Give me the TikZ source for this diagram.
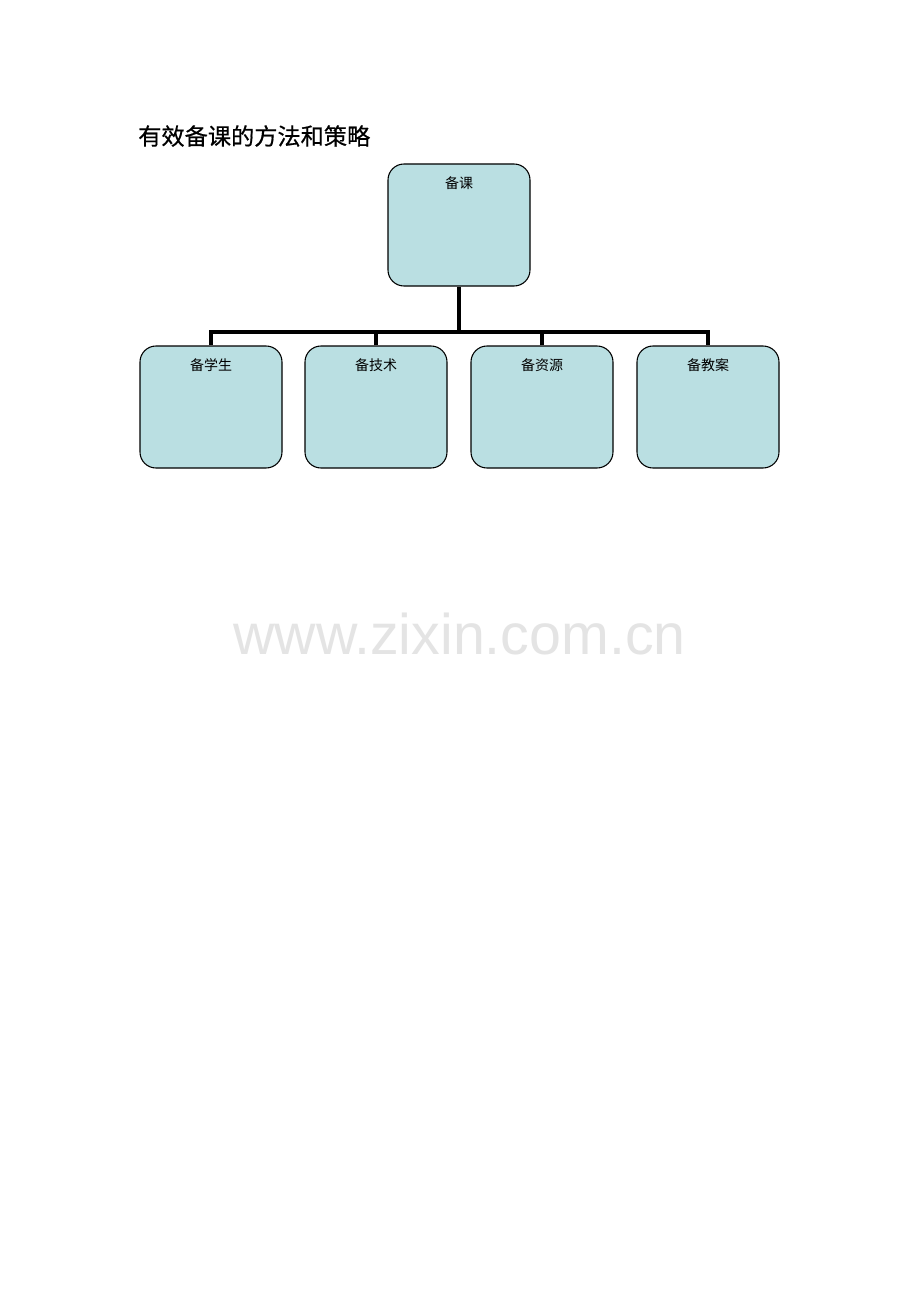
\documentclass[tikz,border=0pt]{standalone}
\usepackage{fontspec}
\newfontfamily\cjk{Noto Sans CJK SC}
\newfontfamily\cjkb[FakeBold=0.6]{Noto Sans CJK SC}
\newfontfamily\wm{Liberation Sans}
\definecolor{boxfill}{HTML}{BADFE2}
\definecolor{wmgray}{HTML}{E4E4E4}
\begin{document}
\begin{tikzpicture}[x=0.75pt,y=-0.75pt,
  orgbox/.style={draw=black, line width=0.8pt, fill=boxfill, rounded corners=12pt,
    minimum width=142*0.75pt, minimum height=122*0.75pt, inner sep=0pt},
  boxlabel/.style={font=\cjk\fontsize{10.5pt}{12pt}\selectfont, inner sep=0pt},
  conn/.style={line width=3pt}]
\useasboundingbox (0,0) rectangle (920,1302);
\fill[white] (0,0) rectangle (920,1302);
\node[anchor=west, font=\cjkb\fontsize{17.4pt}{19pt}\selectfont, inner sep=0pt] (title) at (138,136) {有效备课的方法和策略};
\node[orgbox] (root) at (459,225) {};
\node[boxlabel] (rootlbl) at (459,183) {备课};
\node[orgbox] (c1) at (211,407) {};
\node[orgbox] (c2) at (376,407) {};
\node[orgbox] (c3) at (542,407) {};
\node[orgbox] (c4) at (708,407) {};
\node[boxlabel] (l1) at (211,365) {备学生};
\node[boxlabel] (l2) at (376,365) {备技术};
\node[boxlabel] (l3) at (542,365) {备资源};
\node[boxlabel] (l4) at (708,365) {备教案};
\coordinate (bus) at (459,332);
\draw[conn] (root.south) -- (bus);
\draw[conn] (c1.north) |- (bus) -| (c4.north);
\draw[conn] (c2.north) -- (c2.north |- bus);
\draw[conn] (c3.north) -- (c3.north |- bus);
\node[font=\wm\fontsize{43pt}{50pt}\selectfont, text=wmgray, inner sep=0pt] (wmk) at (459.5,634) {www.zixin.com.cn};
\end{tikzpicture}
\end{document}
